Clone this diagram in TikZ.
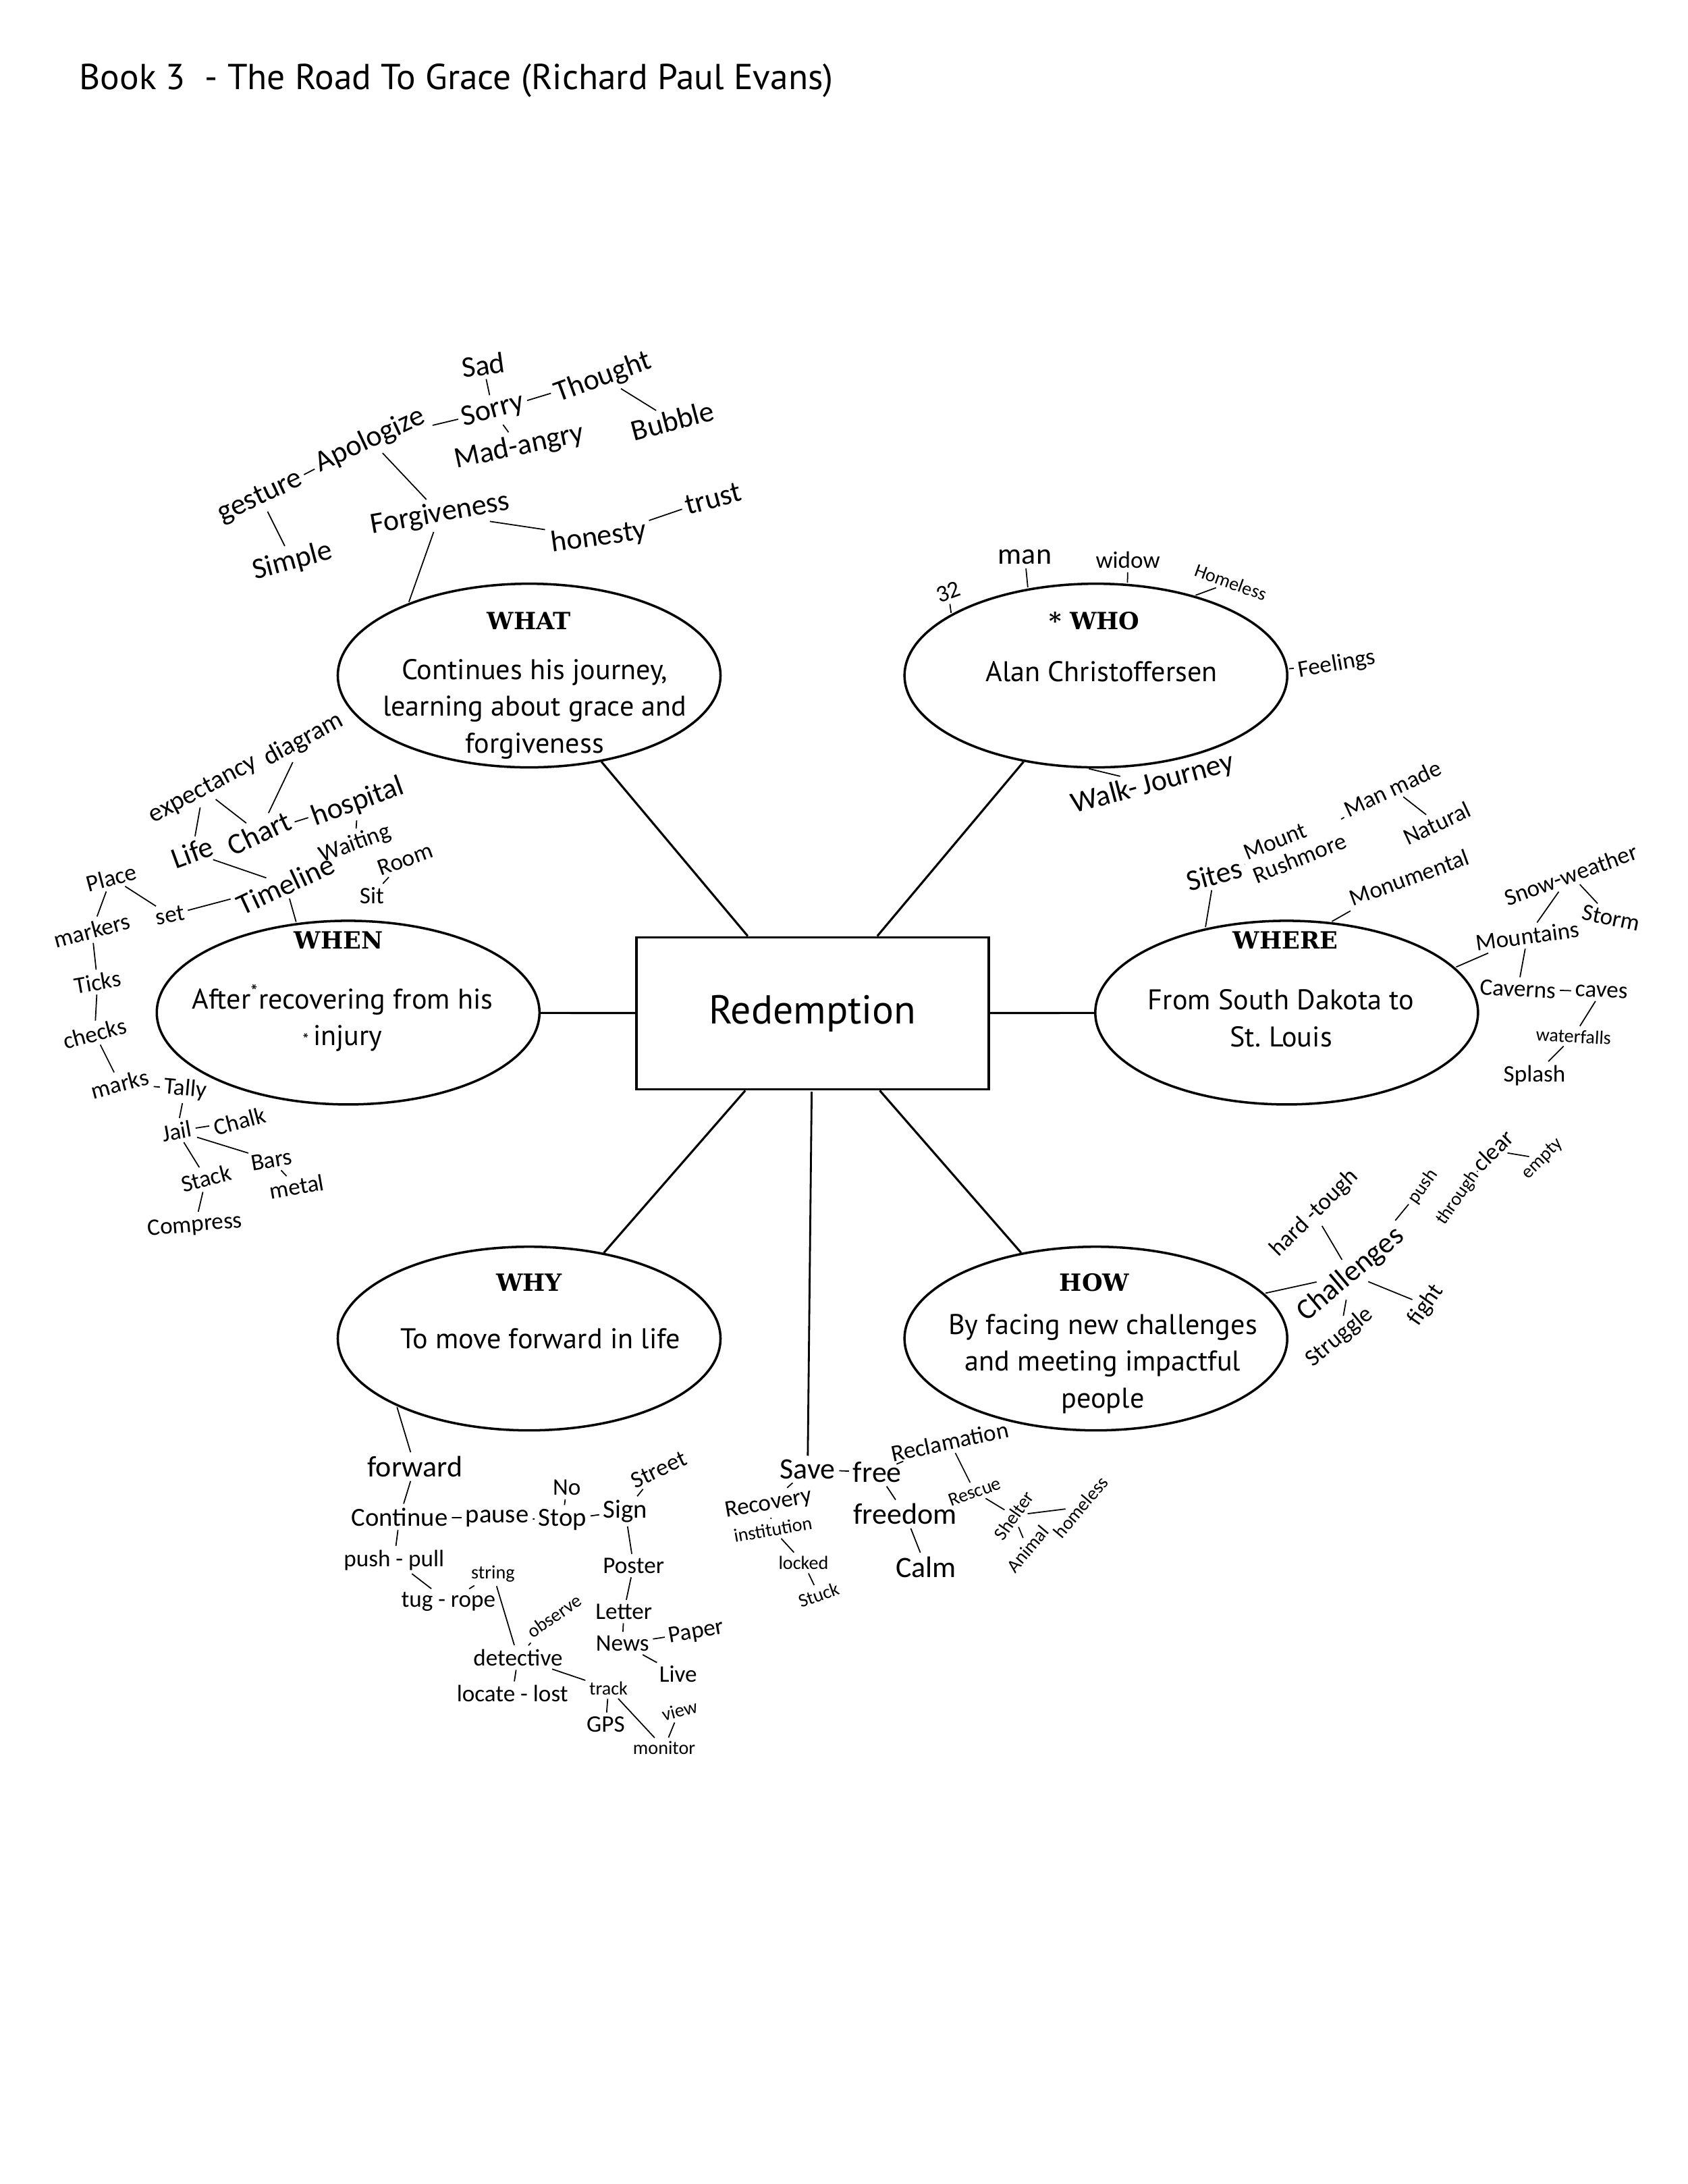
\documentclass[tikz,border=0pt]{standalone}
\usepackage{fontspec}
\setmainfont{PT Sans}
\newfontfamily\headfont{DejaVu Serif}
\newfontfamily\hand{Carlito}
\usetikzlibrary{shapes.geometric}

\begin{document}
\begin{tikzpicture}[x=0.020627cm,y=-0.020627cm,
  hub/.style={draw,line width=1.1pt,minimum width=5.22cm,minimum height=2.25cm,
    font=\fontsize{17}{20}\selectfont},
  bub/.style={draw,ellipse,line width=1pt,minimum width=5.67cm,minimum height=2.72cm},
  head/.style={font=\headfont\bfseries\fontsize{10}{12}\selectfont},
  body/.style={align=center,font=\fontsize{12}{15.5}\selectfont},
  hwl/.style={font=\hand\fontsize{12.5}{13}\selectfont,inner sep=1pt},
  hwk/.style={font=\hand\fontsize{11}{11.5}\selectfont,inner sep=1pt},
  hwm/.style={font=\hand\fontsize{10}{10.5}\selectfont,inner sep=1pt},
  hws/.style={font=\hand\fontsize{8}{8.5}\selectfont,inner sep=1pt},
  spoke/.style={line width=0.9pt},
  tick/.style={line width=0.5pt,shorten <=0.5pt,shorten >=0.5pt}]
\useasboundingbox (0,0) rectangle (1212,1568);
% title
\node[anchor=west,font=\fontsize{15.2}{18}\selectfont] (title) at (51,58)
  {Book 3\ \ - The Road To Grace (Richard Paul Evans)};
% hub and the six questions
\node[hub] (hub) at (583.5,727.5) {Redemption};
\node[bub] (what) at (380,485) {};
\node[bub] (who) at (787,485) {};
\node[bub] (when) at (250,727) {};
\node[bub] (where) at (924,727) {};
\node[bub] (why) at (380,961) {};
\node[bub] (how) at (787,961) {};
\draw[spoke] (hub) -- (what);
\draw[spoke] (hub) -- (who);
\draw[spoke] (hub) -- (when);
\draw[spoke] (hub) -- (where);
\draw[spoke] (hub) -- (why);
\draw[spoke] (hub) -- (how);
\node[head] (whath) at (380,446) {WHAT};
\node[body] (whatt) at (384,509) {Continues his journey,\\learning about grace and\\forgiveness};
\node[head] (whoh) at (786,446) {* WHO};
\node[body] (whot) at (791,482) {Alan Christoffersen};
\node[head] (whenh) at (243,675) {WHEN};
\node[body] (whent) at (246,731) {After\textsuperscript{*}recovering from his\\{\scriptsize*}\,injury};
\node[head] (whereh) at (923,675) {WHERE};
\node[body] (wheret) at (920,731) {From South Dakota to\\St.\ Louis};
\node[head] (whyh) at (380,921) {WHY};
\node[body] (whyt) at (388,961) {To move forward in life};
\node[head] (howh) at (786,921) {HOW};
\node[body] (howt) at (792,979) {By facing new challenges\\and meeting impactful\\people};
% notes round WHAT
\node[hwl,rotate=8] (sad) at (347,262) {Sad};
\node[hwl,rotate=15] (sorry) at (354,295) {Sorry};
\node[hwl,rotate=25] (apol) at (266,316) {Apologize};
\node[hwl,rotate=20] (thought) at (433,271) {Thought};
\node[hwl,rotate=12] (mad) at (373,321) {Mad-angry};
\node[hwl,rotate=15] (bubble) at (483,302) {Bubble};
\node[hwl,rotate=25] (gest) at (187,357) {gesture};
\node[hwl,rotate=15] (simple) at (210,403) {Simple};
\node[hwl,rotate=10] (forg) at (316,369) {Forgiveness};
\node[hwl,rotate=8] (hon) at (430,386) {honesty};
\node[hwl,rotate=15] (trust) at (512,358) {trust};
\draw[tick] (sad) -- (sorry);
\draw[tick] (apol) -- (sorry);
\draw[tick] (sorry) -- (thought);
\draw[tick] (sorry) -- (mad);
\draw[tick] (thought) -- (bubble);
\draw[tick] (apol) -- (gest);
\draw[tick] (apol) -- (forg);
\draw[tick] (gest) -- (simple);
\draw[tick] (forg) -- (hon);
\draw[tick] (hon) -- (trust);
\draw[tick] (forg) -- (what.149);
% notes round WHO
\node[hwm,rotate=20] (n32) at (681,425) {32};
\node[hwl] (man) at (736,400) {man};
\node[hwm] (widow) at (810,402) {widow};
\node[hws,rotate=-20] (homeless) at (884,418) {Homeless};
\node[hwm,rotate=10] (feel) at (960,477) {Feelings};
\node[hwl,rotate=15] (walk) at (828,563) {Walk-\,Journey};
\draw[tick] (n32) -- (who.157);
\draw[tick] (man) -- (who.128);
\draw[tick] (widow) -- (who.71);
\draw[tick] (homeless) -- (who.39);
\draw[tick] (feel) -- (who.2);
\draw[tick] (walk) -- (who.-95);
% notes round WHEN
\node[hwk,rotate=28] (expect) at (146,567) {expectancy};
\node[hwk,rotate=28] (diagram) at (218,531) {diagram};
\node[hwl,rotate=20] (life) at (138,612) {Life};
\node[hwl,rotate=25] (chart) at (186,598) {Chart};
\node[hwl,rotate=20] (hosp) at (257,576) {hospital};
\node[hwm,rotate=20] (wait) at (255,606) {Waiting};
\node[hwm,rotate=20] (room) at (291,617) {Room};
\node[hwm] (sit) at (267,643) {Sit};
\node[hwl,rotate=25] (timel) at (205,635) {Timeline};
\node[hwm,rotate=10] (set) at (122,657) {set};
\node[hwm,rotate=15] (place) at (80,630) {Place};
\node[hwm,rotate=15] (markers) at (66,668) {markers};
\node[hwm,rotate=10] (ticks) at (70,705) {Ticks};
\node[hwm,rotate=15] (checks) at (68,742) {checks};
\node[hwm,rotate=15] (marks) at (86,778) {marks};
\node[hwm,rotate=-5] (tally) at (133,782) {Tally};
\node[hwm,rotate=10] (jail) at (127,812) {Jail};
\node[hwm,rotate=15] (chalk) at (172,805) {Chalk};
\node[hwm,rotate=15] (stack) at (148,846) {Stack};
\node[hwm,rotate=10] (bars) at (195,833) {Bars};
\node[hwm,rotate=10] (metal) at (213,852) {metal};
\node[hwm,rotate=5] (compress) at (140,880) {Compress};
\draw[tick] (life) -- (expect);
\draw[tick] (chart) -- (expect);
\draw[tick] (chart) -- (diagram);
\draw[tick] (chart) -- (hosp);
\draw[tick] (hosp) -- (wait);
\draw[tick] (room) -- (sit);
\draw[tick] (life) -- (timel);
\draw[tick] (timel) -- (set);
\draw[tick] (set) -- (place);
\draw[tick] (place) -- (markers);
\draw[tick] (markers) -- (ticks);
\draw[tick] (ticks) -- (checks);
\draw[tick] (checks) -- (marks);
\draw[tick] (marks) -- (tally);
\draw[tick] (tally) -- (jail);
\draw[tick] (jail) -- (chalk);
\draw[tick] (jail) -- (stack);
\draw[tick] (jail) -- (bars);
\draw[tick] (bars) -- (metal);
\draw[tick] (stack) -- (compress);
\draw[tick] (timel) -- (when.120);
% notes round WHERE
\node[hwl,rotate=15] (sites) at (872,628) {Sites};
\node[hwm,rotate=22,align=left] (mount) at (930,608) {Mount\\Rushmore};
\node[hwm,rotate=25] (manmade) at (1000,566) {Man made};
\node[hwm,rotate=25] (natural) at (1032,591) {Natural};
\node[hwm,rotate=20] (monu) at (1012,630) {Monumental};
\node[hwm,rotate=20] (snow) at (1128,628) {Snow-weather};
\node[hwm,rotate=-12] (storm) at (1157,659) {Storm};
\node[hwm,rotate=8] (mountains) at (1097,672) {Mountains};
\node[hwm,rotate=-3] (caverns) at (1090,710) {Caverns};
\node[hwm,rotate=-3] (caves) at (1150,712) {caves};
\node[hws,rotate=-3] (water) at (1130,744) {waterfalls};
\node[hwm] (splash) at (1102,772) {Splash};
\draw[tick] (sites) -- (mount);
\draw[tick] (mount) -- (manmade);
\draw[tick] (manmade) -- (natural);
\draw[tick] (sites) -- (where.134);
\draw[tick] (monu) -- (where.64);
\draw[tick] (mountains) -- (where.15);
\draw[tick] (mountains) -- (snow);
\draw[tick] (snow) -- (storm);
\draw[tick] (mountains) -- (caverns);
\draw[tick] (caverns) -- (caves);
\draw[tick] (caves) -- (water);
\draw[tick] (water) -- (splash);
% notes round HOW
\node[hwm,rotate=45] (hard) at (944,871) {hard -tough};
\node[hwl,rotate=40] (chall) at (970,915) {Challenges};
\node[hws,rotate=55] (push) at (1022,852) {push};
\node[hws,rotate=55] (through) at (1047,860) {through};
\node[hwm,rotate=45] (clear) at (1072,826) {clear};
\node[hws,rotate=45] (empty) at (1108,832) {empty};
\node[hwm,rotate=40] (strug) at (962,960) {Struggle};
\node[hwm,rotate=55] (fight) at (1024,937) {fight};
\draw[tick] (chall) -- (how.15);
\draw[tick] (hard) -- (chall);
\draw[tick] (chall) -- (push);
\draw[tick] (through) -- (clear);
\draw[tick] (clear) -- (empty);
\draw[tick] (chall) -- (strug);
\draw[tick] (chall) -- (fight);
% notes round WHY
\node[hwl] (forward) at (298,1053) {forward};
\node[hwk] (cont) at (287,1089) {Continue};
\node[hwk] (pause) at (357,1090) {pause};
\node[hwk] (stop) at (404,1091) {Stop};
\node[hwk] (sign) at (449,1085) {Sign};
\node[hwm] (no) at (407,1068) {No};
\node[hwm,rotate=25] (street) at (473,1055) {Street};
\node[hwm] (pushp) at (283,1120) {push - pull};
\node[hws] (string) at (354,1130) {string};
\node[hwm] (tug) at (322,1150) {tug - rope};
\node[hwm] (poster) at (455,1124) {Poster};
\node[hwm] (letter) at (448,1157) {Letter};
\node[hwm] (news) at (447,1180) {News};
\node[hwm,rotate=10] (paper) at (500,1172) {Paper};
\node[hwm] (live) at (487,1202) {Live};
\node[hws,rotate=35] (observe) at (398,1160) {observe};
\node[hwm] (detect) at (372,1190) {detective};
\node[hwm] (locate) at (368,1216) {locate - lost};
\node[hws] (track) at (437,1212) {track};
\node[hwm] (gps) at (435,1238) {GPS};
\node[hws,rotate=15] (view) at (488,1228) {view};
\node[hws] (monitor) at (477,1255) {monitor};
\draw[tick] (forward) -- (why.207);
\draw[tick] (forward) -- (cont);
\draw[tick] (cont) -- (pause);
\draw[tick] (pause) -- (stop);
\draw[tick] (stop) -- (no);
\draw[tick] (stop) -- (sign);
\draw[tick] (sign) -- (street);
\draw[tick] (sign) -- (poster);
\draw[tick] (cont) -- (pushp);
\draw[tick] (pushp) -- (tug);
\draw[tick] (string) -- (tug);
\draw[tick] (string) -- (detect);
\draw[tick] (detect) -- (observe);
\draw[tick] (detect) -- (locate);
\draw[tick] (detect) -- (track);
\draw[tick] (poster) -- (letter);
\draw[tick] (letter) -- (news);
\draw[tick] (news) -- (paper);
\draw[tick] (news) -- (live);
\draw[tick] (track) -- (gps);
\draw[tick] (track) -- (monitor);
\draw[tick] (monitor) -- (view);
% notes under the hub
\node[hwl] (save) at (580,1055) {Save};
\node[hwl] (free) at (630,1057) {free};
\node[hwm,rotate=12] (recl) at (682,1035) {Reclamation};
\node[hwm,rotate=10] (recov) at (552,1080) {Recovery};
\node[hws,rotate=10] (inst) at (555,1098) {institution};
\node[hws] (locked) at (577,1122) {locked};
\node[hws,rotate=20] (stuck) at (588,1145) {Stuck};
\node[hwl] (freedom) at (650,1087) {freedom};
\node[hwl] (calm) at (665,1125) {Calm};
\node[hws,rotate=20] (rescue) at (700,1071) {Rescue};
\node[hws,rotate=55] (shelter) at (728,1088) {Shelter};
\node[hws,rotate=50] (animal) at (738,1112) {Animal};
\node[hws,rotate=50] (homel) at (776,1082) {homeless};
\draw[tick,line width=0.8pt] (hub) -- (save);
\draw[tick] (save) -- (free);
\draw[tick] (save) -- (recov);
\draw[tick] (free) -- (recl);
\draw[tick] (free) -- (freedom);
\draw[tick] (freedom) -- (calm);
\draw[tick] (recl) -- (rescue);
\draw[tick] (rescue) -- (shelter);
\draw[tick] (shelter) -- (homel);
\draw[tick] (shelter) -- (animal);
\draw[tick] (recov) -- (inst);
\draw[tick] (inst) -- (locked);
\draw[tick] (locked) -- (stuck);
\end{tikzpicture}
\end{document}
